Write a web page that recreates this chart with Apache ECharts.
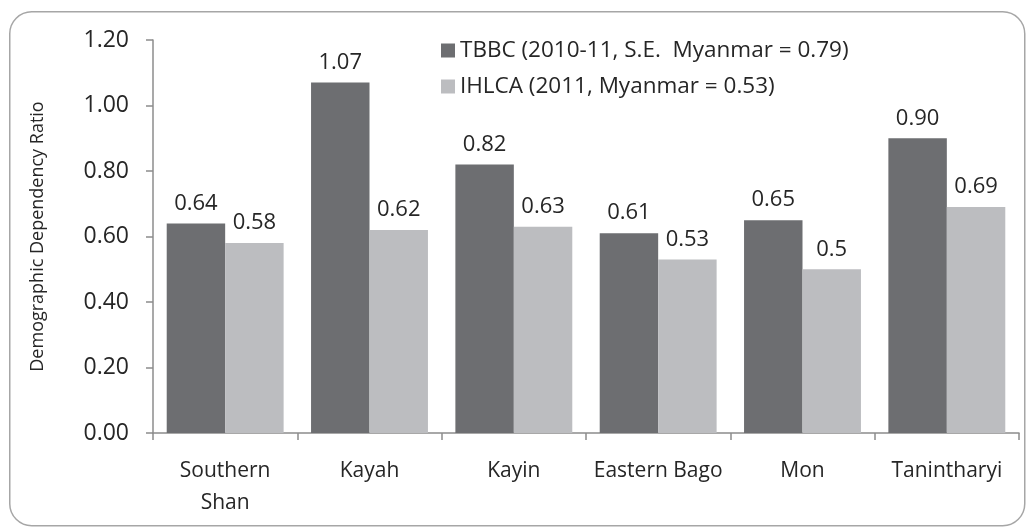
<!DOCTYPE html>
<html><head><meta charset="utf-8">
<script src="https://cdn.jsdelivr.net/npm/echarts@6/dist/echarts.min.js"></script>
<style>html,body{margin:0;padding:0;background:#fff}#c{width:1031px;height:530px}</style>
</head><body><div id="c"></div>
<script>
const categories = ['Southern\nShan', 'Kayah', 'Kayin', 'Eastern Bago', 'Mon', 'Tanintharyi'];
const tbbcValues = [0.64, 1.07, 0.82, 0.61, 0.65, 0.90];
const ihlcaValues = [0.58, 0.62, 0.63, 0.53, 0.50, 0.69];
const tbbcLabels = ['0.64', '1.07', '0.82', '0.61', '0.65', '0.90'];
const ihlcaLabels = ['0.58', '0.62', '0.63', '0.53', '0.5', '0.69'];
const seriesNames = ['TBBC (2010-11, S.E.  Myanmar = 0.79)', 'IHLCA (2011, Myanmar = 0.53)'];
const yTickValues = [0, 0.2, 0.4, 0.6, 0.8, 1.0, 1.2];

const FONT = 'Open Sans';
const chart = echarts.init(document.getElementById('c'));
chart.setOption({
  animation: false,
  textStyle: { fontFamily: FONT, color: '#262626' },
  graphic: [{
    type: 'rect', left: 9, top: 11, silent: true, z: -1,
    shape: { width: 1015, height: 514, r: 22 },
    style: { fill: '#fff', stroke: '#a6a6a6', lineWidth: 1.5 }
  }],
  legend: {
    orient: 'vertical', left: 436, top: 34, itemGap: 13,
    itemWidth: 14, itemHeight: 14, icon: 'rect',
    textStyle: { fontFamily: FONT, fontSize: 22.5, color: '#262626' },
    data: seriesNames
  },
  grid: { left: 153, right: 12, top: 40, bottom: 97 },
  xAxis: {
    type: 'category', data: categories,
    axisLine: { lineStyle: { color: '#8c8c8c', width: 1.5 } },
    axisTick: { show: true, interval: 0, length: 7, lineStyle: { color: '#8c8c8c', width: 1.5 } },
    axisLabel: { interval: 0, fontFamily: FONT, fontSize: 21, color: '#262626', margin: 22, lineHeight: 32 }
  },
  yAxis: {
    type: 'value', min: 0, max: 1.2, interval: 0.2,
    name: 'Demographic Dependency Ratio', nameLocation: 'middle', nameGap: 106,
    nameTextStyle: { fontFamily: FONT, fontSize: 18, color: '#262626' },
    axisLine: { show: true, lineStyle: { color: '#8c8c8c', width: 1.5 } },
    axisTick: { show: true, length: 7, lineStyle: { color: '#8c8c8c', width: 1.5 } },
    splitLine: { show: false },
    axisLabel: { fontFamily: FONT, fontSize: 23, color: '#262626', margin: 24,
      formatter: v => v.toFixed(2) }
  },
  series: [
    {
      name: seriesNames[0], type: 'bar', data: tbbcValues,
      barGap: '0%', barCategoryGap: '19%',
      itemStyle: { color: '#6d6e71' },
      label: { show: true, position: 'top', distance: 9, fontFamily: FONT, fontSize: 22, color: '#262626',
        formatter: p => tbbcLabels[p.dataIndex] }
    },
    {
      name: seriesNames[1], type: 'bar', data: ihlcaValues,
      itemStyle: { color: '#bcbdc0' },
      label: { show: true, position: 'top', distance: 9, fontFamily: FONT, fontSize: 22, color: '#262626',
        formatter: p => ihlcaLabels[p.dataIndex] }
    }
  ]
});
</script></body></html>
